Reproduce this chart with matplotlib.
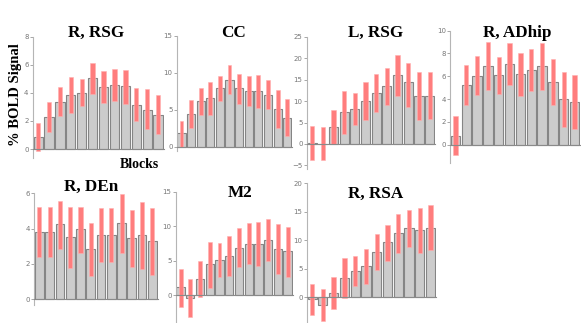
import matplotlib
matplotlib.use("Agg")
import matplotlib.pyplot as plt
import numpy as np

W, H = 581, 323
DPI = 100

# block means and error-bar ends (12 blocks each)
blocks = np.arange(12)

rsg_r_mean = [0.88, 2.26, 3.37, 3.82, 4.0, 5.04, 4.4, 4.56, 4.47, 3.15, 2.8, 2.45]
rsg_r_lo = [-0.14, 1.24, 2.38, 2.59, 3.06, 3.9, 3.3, 3.44, 3.18, 2.0, 1.43, 1.05]
rsg_r_hi = [1.88, 3.33, 4.42, 5.15, 4.99, 6.13, 5.54, 5.7, 5.65, 4.32, 4.25, 3.82]

cc_mean = [1.8, 4.45, 6.15, 6.55, 7.9, 9.1, 7.9, 7.55, 7.5, 6.95, 5.05, 3.95]
cc_lo = [0.0, 2.6, 4.3, 4.3, 6.2, 7.1, 5.8, 5.55, 5.2, 5.1, 2.6, 1.5]
cc_hi = [3.5, 6.35, 8.0, 8.8, 9.6, 11.1, 9.85, 9.6, 9.7, 9.1, 7.7, 6.45]

rsg_l_mean = [0.23, -0.05, 4.04, 7.4, 8.07, 9.94, 11.8, 13.4, 16.0, 14.4, 11.3, 11.3]
rsg_l_lo = [-3.7, -3.7, 0.0, 2.3, 4.4, 5.7, 7.5, 9.1, 11.3, 8.6, 5.7, 5.9]
rsg_l_hi = [4.2, 4.04, 7.9, 12.3, 11.8, 14.4, 16.2, 17.8, 20.7, 18.9, 16.7, 16.7]

adhip_r_mean = [0.79, 5.2, 6.02, 6.9, 6.08, 7.08, 6.17, 6.52, 6.87, 5.47, 3.98, 3.74]
adhip_r_lo = [-0.88, 3.45, 4.39, 4.8, 4.47, 5.2, 4.27, 4.7, 4.8, 3.5, 1.58, 1.4]
adhip_r_hi = [2.51, 6.99, 7.78, 9.0, 7.72, 8.92, 8.04, 8.39, 8.92, 7.49, 6.35, 6.1]

den_r_mean = [3.83, 3.83, 4.25, 3.51, 3.96, 2.83, 3.62, 3.62, 4.3, 3.45, 3.62, 3.28]
den_r_lo = [2.42, 2.42, 2.83, 1.79, 2.64, 1.32, 2.11, 2.11, 2.6, 1.85, 1.74, 1.38]
den_r_hi = [5.2, 5.2, 5.58, 5.25, 5.25, 4.34, 5.15, 5.15, 5.96, 5.06, 5.53, 5.19]

m2_mean = [1.16, -0.43, 2.3, 4.5, 5.06, 5.7, 6.85, 7.5, 7.5, 7.96, 6.66, 6.37]
m2_lo = [-1.64, -3.09, -0.29, 1.1, 2.7, 2.8, 4.05, 4.58, 4.3, 5.0, 3.09, 2.7]
m2_hi = [3.76, 2.36, 4.97, 7.67, 7.57, 8.59, 9.74, 10.4, 10.66, 11.05, 10.27, 9.9]

rsa_r_mean = [-0.35, -1.4, 0.76, 3.33, 4.62, 5.44, 7.95, 9.65, 11.23, 12.1, 11.75, 12.1]
rsa_r_lo = [-3.1, -4.15, -2.05, -0.18, 1.93, 2.28, 4.85, 6.43, 7.78, 8.83, 7.72, 8.3]
rsa_r_hi = [2.34, 1.46, 3.5, 6.84, 7.25, 8.48, 11.1, 12.7, 14.7, 15.4, 15.7, 16.2]

titles = ["R, RSG", "CC", "L, RSG", "R, ADhip", "R, DEn", "M2", "R, RSA"]
means = [rsg_r_mean, cc_mean, rsg_l_mean, adhip_r_mean, den_r_mean, m2_mean, rsa_r_mean]
lows = [rsg_r_lo, cc_lo, rsg_l_lo, adhip_r_lo, den_r_lo, m2_lo, rsa_r_lo]
highs = [rsg_r_hi, cc_hi, rsg_l_hi, adhip_r_hi, den_r_hi, m2_hi, rsa_r_hi]
yticks = [[0, 2, 4, 6, 8], [0, 5, 10, 15], [-5, 0, 5, 10, 15, 20, 25], [0, 2, 4, 6, 8, 10],
          [0, 2, 4, 6], [0, 5, 10, 15], [0, 5, 10, 15, 20]]

# pixel layout: left, right, top y value, its pixel, pixel of zero, ylim bottom
layout = [
    (32.7, 163.5, 8, 36.7, 149.0, -0.66),
    (176.7, 292.0, 15, 36.0, 146.7, -0.6),
    (306.7, 435.0, 25, 36.7, 144.0, -5.8),
    (450.0, 580.0, 10, 30.7, 144.7, -1.63),
    (34.3, 157.5, 6, 193.3, 299.3, -0.32),
    (175.7, 292.5, 15, 191.7, 295.3, -3.8),
    (306.7, 436.0, 20, 183.3, 297.3, -5.0),
]
# title centre x and baseline y in pixels
title_pos = [(96, 37.3), (233.3, 37.3), (375.8, 37.3), (517.5, 37.3),
             (90.7, 191), (240, 197.3), (375.5, 197.7)]

fig = plt.figure(figsize=(W / DPI, H / DPI), dpi=DPI)

for i in range(7):
    left, right, ytop, ptop, pzero, ybot = layout[i]
    per = (pzero - ptop) / ytop
    pbot = pzero - ybot * per
    ax = fig.add_axes([left / W, 1 - pbot / H, (right - left) / W, (pbot - ptop) / H])
    ax.set_facecolor("none")
    ax.bar(blocks, means[i], width=0.85, color="#cccccc", edgecolor="#858585", linewidth=0.8, zorder=2)
    lo = np.array(lows[i])
    hi = np.array(highs[i])
    ax.bar(blocks, hi - lo, bottom=lo, width=0.4, color="#ff7d7d", edgecolor="#ffb0b0",
           linewidth=0.4, zorder=3)
    ax.set_xlim(-0.5, 11.5)
    ax.set_ylim(ybot, ytop)
    ax.set_yticks(yticks[i])
    ax.tick_params(axis="y", labelsize=5, colors="#999999", labelcolor="#777777", length=2, width=0.6, pad=1)
    ax.set_xticks([])
    for s in ["top", "right"]:
        ax.spines[s].set_visible(False)
    ax.spines["left"].set_color("#b5b5b5")
    ax.spines["left"].set_linewidth(0.8)
    ax.spines["bottom"].set_position(("data", 0))
    ax.spines["bottom"].set_color("#8a8a8a")
    ax.spines["bottom"].set_linewidth(0.8)
    ax.spines["bottom"].set_zorder(4)

    tx, ty = title_pos[i]
    fig.text(tx / W, 1 - ty / H, titles[i], ha="center", va="baseline",
             fontsize=12.3, fontweight="bold", family="Liberation Serif")

fig.text(16 / W, 1 - 95 / H, "% BOLD Signal", rotation=90, ha="center", va="center",
         fontsize=10.5, fontweight="bold", family="Liberation Serif")
fig.text(139.5 / W, 1 - 168 / H, "Blocks", ha="center", va="baseline",
         fontsize=10, fontweight="bold", family="Liberation Serif")

fig.savefig("out.png", dpi=DPI)
